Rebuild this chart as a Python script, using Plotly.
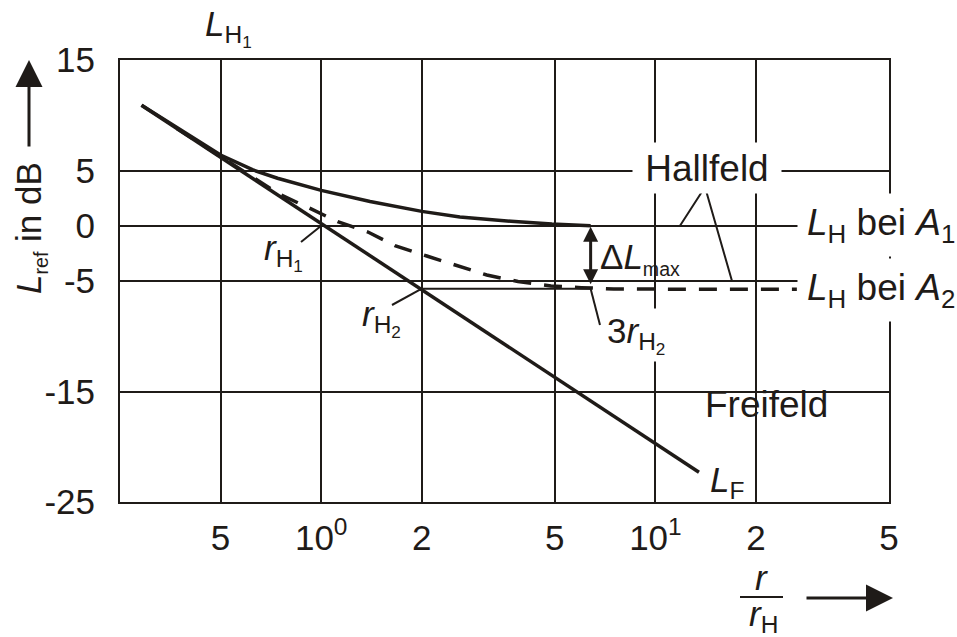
import numpy as np
import plotly.graph_objects as go

INK = "#1f1b18"
FONT = "Liberation Sans, Arial, Helvetica, sans-serif"
FS = 35      # tick labels and axis captions
FS_LAB = 37  # labels inside the frame

# ---- axes -------------------------------------------------------------
x_tick_vals = [0.5, 1, 2, 5, 10, 20, 50]
x_tick_text = ["5", "10<sup>0</sup>", "2", "5", "10<sup>1</sup>", "2", "5"]
y_tick_vals = [15, 5, 0, -5, -15, -25]
y_tick_text = ["15", "5", "0", "-5", "-15", "-25"]
X_MIN, X_MAX = 0.25, 50
Y_MIN, Y_MAX = -25, 15

# ---- curves (r/r_H, level in dB) -------------------------------------
# free field L_F: straight line on the logarithmic axis
free_r = [0.29, 13.5]
free_L = [10.9, -22.3]

# total level, absorption A1
a1_r = [0.29, 0.40, 0.50, 0.625, 0.74, 1.0, 1.4, 2.0, 2.6, 3.7, 4.9, 6.4]
a1_L = [10.9, 8.2, 6.4, 5.05, 4.3, 3.2, 2.2, 1.3, 0.8, 0.4, 0.15, 0.0]

# total level, absorption A2 (dashed)
a2_r = [0.37, 0.55, 0.75, 0.92, 1.12, 1.38, 1.67, 2.07, 2.55, 3.13,
        3.88, 4.87, 6.0, 7.5, 13.6, 26.5]
a2_L = [8.8, 5.5, 2.85, 1.61, 0.37, -0.57, -1.83, -2.74, -3.64, -4.46,
        -5.05, -5.45, -5.6, -5.72, -5.75, -5.75]

# reverberation radii and diffuse-field levels
r_h1, L_h1 = 1.0, 0.0
r_h2, L_h2 = 2.0, -5.7
r_3h2 = 6.4
hall_L = [0.0, -5.0]

# ---- geometry helpers (frame position in the page) -------------------
W, H = 957, 637
PL, PT, PR, PB = 120, 60, 889, 502


def px(p):
    return (p - PL) / (PR - PL)


def py(p):
    return (PB - p) / (PB - PT)


def r_at(p):
    lo, hi = np.log10(X_MIN), np.log10(X_MAX)
    return 10 ** (lo + (p - PL) / (PR - PL) * (hi - lo))


def L_at(p):
    return Y_MAX - (p - PT) / (PB - PT) * (Y_MAX - Y_MIN)


fig = go.Figure()


def line(xs, ys, width=3.5, dash=None):
    fig.add_trace(go.Scatter(
        x=xs, y=ys, mode="lines", hoverinfo="skip", showlegend=False,
        line=dict(color=INK, width=width, dash=dash),
    ))


line(free_r, free_L)
line(a1_r, a1_L)
line(a2_r, a2_L, dash="18px,13px")
line([r_h2, r_3h2], [L_h2, L_h2], width=2)

# leader lines from labels to the marked points
line([r_at(301), r_h1], [L_at(242), L_h1], width=2)
line([r_at(392), r_h2], [L_at(305), L_h2], width=2)
line([r_3h2, r_at(600)], [L_h2, L_at(325)], width=2)
line([r_at(680), r_at(705), r_at(732)], [hall_L[0], L_at(187), hall_L[1]], width=2)


def label(text, x, y, xanchor="left", yanchor="middle", size=FS_LAB, **kw):
    d = dict(text=text, x=px(x), y=py(y), xref="paper", yref="paper",
             xanchor=xanchor, yanchor=yanchor, showarrow=False,
             font=dict(family=FONT, size=size, color=INK))
    d.update(kw)
    fig.add_annotation(**d)


# white-backed labels interrupt the grid
label("Hallfeld", 707, 168, xanchor="center", bgcolor="white",
      width=140, height=42, borderpad=4)
label("<i>L</i><sub>H</sub> bei <i>A</i><sub>1</sub>", 797, 225,
      bgcolor="white", width=150, height=44, borderpad=9, align="left")
label("<i>L</i><sub>H</sub> bei <i>A</i><sub>2</sub>", 797, 290,
      bgcolor="white", width=150, height=44, borderpad=9, align="left")
label("3<i>r</i><sub>H<sub>2</sub></sub>", 604, 335, bgcolor="white",
      borderpad=2, size=FS)

label("Freifeld", 703, 404)
label("<i>L</i><sub>F</sub>", 708, 482, size=FS)
label("Δ<i>L</i><sub><span style='font-size:80%'>max</span></sub>", 598, 258, size=FS)
label("<i>r</i><sub>H<sub>1</sub></sub>", 262, 252, size=FS)
label("<i>r</i><sub>H<sub>2</sub></sub>", 360, 318, size=FS)
label("<i>L</i><sub>H<sub>1</sub></sub>", 203, 28, size=FS)

# axis captions
label("<i>L</i><sub><span style='font-size:80%'>ref</span></sub> in dB", 30, 228,
      xanchor="center", textangle=-90, size=FS)
label("<i>r</i>", 761, 577, xanchor="center", size=FS)
label("<i>r</i><sub>H</sub>", 763, 616, xanchor="center", size=FS)
fig.add_shape(type="line", xref="paper", yref="paper",
              x0=px(740), x1=px(783), y0=py(597), y1=py(597),
              line=dict(color=INK, width=2))

# arrows
fig.add_annotation(x=px(29), y=py(60), xref="paper", yref="paper",
                   ax=0, ay=88, text="", showarrow=True, arrowhead=2,
                   arrowsize=1.8, arrowwidth=3, arrowcolor=INK)
fig.add_annotation(x=px(893), y=py(598), xref="paper", yref="paper",
                   ax=-88, ay=0, text="", showarrow=True, arrowhead=2,
                   arrowsize=1.8, arrowwidth=3, arrowcolor=INK)
fig.add_annotation(x=np.log10(r_3h2), y=L_h1, xref="x", yref="y",
                   ax=np.log10(r_3h2), ay=L_h2, axref="x", ayref="y",
                   text="", showarrow=True, arrowside="end+start",
                   arrowhead=2, startarrowhead=2, arrowsize=1,
                   startarrowsize=1, arrowwidth=3, arrowcolor=INK,
                   standoff=1, startstandoff=3)

axis_common = dict(showgrid=True, gridcolor=INK, gridwidth=2,
                   showline=True, linecolor=INK, linewidth=2, mirror=True,
                   ticks="", zeroline=False,
                   tickfont=dict(family=FONT, size=FS, color=INK))

fig.update_layout(
    width=W, height=H, autosize=False,
    margin=dict(l=PL, r=W - PR, t=PT, b=H - PB, pad=0),
    paper_bgcolor="white", plot_bgcolor="white",
    xaxis=dict(type="log", range=[np.log10(X_MIN), np.log10(X_MAX)],
               tickvals=x_tick_vals, ticktext=x_tick_text,
               ticklabelstandoff=4, **axis_common),
    yaxis=dict(range=[Y_MIN, Y_MAX], tickvals=y_tick_vals,
               ticktext=y_tick_text, ticklabelstandoff=16, **axis_common),
    font=dict(family=FONT, color=INK),
)

fig.write_html("out.html")
